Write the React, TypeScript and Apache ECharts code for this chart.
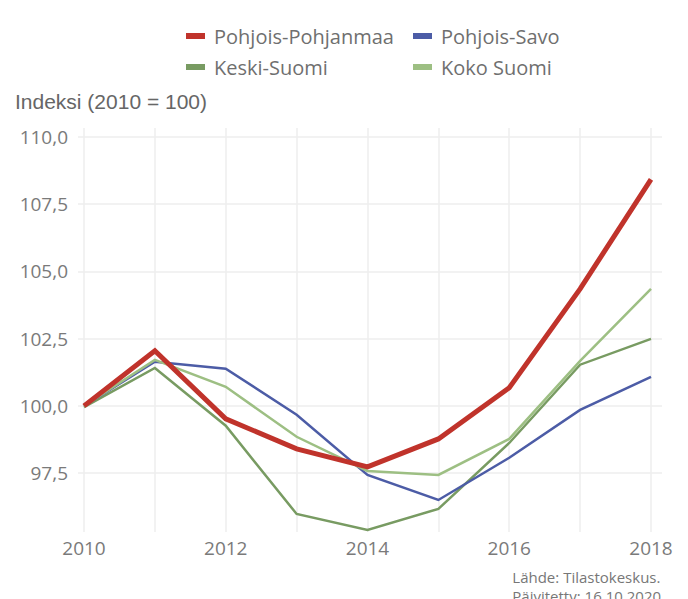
import React, { useEffect, useRef } from "react";
import * as echarts from "echarts";

const years = [2010, 2011, 2012, 2013, 2014, 2015, 2016, 2017, 2018];
const pohjoisPohjanmaa = [100.0, 102.05, 99.52, 98.4, 97.73, 98.77, 100.67, 104.35, 108.42];
const pohjoisSavo = [100.0, 101.64, 101.38, 99.67, 97.43, 96.5, 98.07, 99.85, 101.08];
const keskiSuomi = [99.95, 101.41, 99.26, 95.98, 95.39, 96.17, 98.62, 101.53, 102.49];
const kokoSuomi = [100.0, 101.71, 100.71, 98.85, 97.58, 97.43, 98.77, 101.67, 104.35];
const yTicks = [97.5, 100, 102.5, 105, 107.5, 110];
const xTicks = [2010, 2012, 2014, 2016, 2018];

const FONT = "Open Sans";
const GREY = "#7a7a7a";

export default function App() {
  const ref = useRef<HTMLDivElement>(null);
  useEffect(() => {
    if (!ref.current) return;
    const chart = echarts.init(ref.current, undefined, { renderer: "svg" });
    const mk = (vals: number[]) => years.map((y, i) => [y, vals[i]]);
    const series = [
      { name: "Pohjois-Pohjanmaa", data: mk(pohjoisPohjanmaa), color: "#c0332b", width: 5, z: 5 },
      { name: "Pohjois-Savo", data: mk(pohjoisSavo), color: "#4c5ca6", width: 2.5, z: 3 },
      { name: "Keski-Suomi", data: mk(keskiSuomi), color: "#789b62", width: 2.5, z: 2 },
      { name: "Koko Suomi", data: mk(kokoSuomi), color: "#9dbf83", width: 2.5, z: 4 },
    ];
    const legendText = { fontFamily: FONT, fontSize: 20, color: "#6f6f6f", padding: [0, 0, 0, 4] };
    chart.setOption({
      animation: false,
      backgroundColor: "#ffffff",
      title: [
        {
          text: "Indeksi (2010 = 100)",
          left: 10,
          top: 86,
          textStyle: { fontFamily: "Liberation Sans", fontSize: 21, fontWeight: "normal", color: "#666666" },
        },
      ],
      legend: [
        {
          data: ["Pohjois-Pohjanmaa", "Keski-Suomi"],
          orient: "vertical",
          left: 181,
          top: 21,
          itemWidth: 19,
          itemHeight: 6,
          itemGap: 11,
          icon: "rect",
          textStyle: legendText,
        },
        {
          data: ["Pohjois-Savo", "Koko Suomi"],
          orient: "vertical",
          left: 408,
          top: 21,
          itemWidth: 19,
          itemHeight: 6,
          itemGap: 11,
          icon: "rect",
          textStyle: legendText,
        },
      ],
      grid: { left: 78, right: 26, top: 128, bottom: 67, containLabel: false },
      xAxis: {
        type: "value",
        min: 2010 - 6 / 70.875,
        max: 2018 + 11 / 70.875,
        axisLine: { show: false },
        axisTick: { show: false, customValues: years },
        axisLabel: {
          customValues: xTicks,
          fontFamily: FONT,
          fontSize: 19,
          color: GREY,
          margin: 6,
          formatter: (v: number) => String(Math.round(v)),
        },
        splitLine: { show: true, lineStyle: { color: "#eeeeee", width: 1.5 } },
      },
      yAxis: {
        type: "value",
        min: 95.31,
        max: 110.33,
        axisLine: { show: false },
        axisTick: { show: false, customValues: yTicks },
        axisLabel: {
          customValues: yTicks,
          fontFamily: FONT,
          fontSize: 19,
          color: GREY,
          margin: 10,
          formatter: (v: number) => v.toFixed(1).replace(".", ","),
        },
        splitLine: { show: true, lineStyle: { color: "#eeeeee", width: 1.5 } },
      },
      graphic: [
        {
          type: "text",
          right: 23,
          top: 567,
          style: {
            text: "Lähde: Tilastokeskus.\nPäivitetty: 16.10.2020.",
            align: "right",
            fontFamily: FONT,
            fontSize: 15,
            lineHeight: 19,
            fill: "#777777",
          },
        },
      ],
      series: series.map((s) => ({
        type: "line",
        name: s.name,
        data: s.data,
        z: s.z,
        showSymbol: false,
        symbol: "none",
        color: s.color,
        lineStyle: { color: s.color, width: s.width, join: "miter" },
        itemStyle: { color: s.color },
      })),
    });
    return () => chart.dispose();
  }, []);
  return <div ref={ref} style={{ position: "absolute", left: 0, top: 0, width: 688, height: 599 }} />;
}
